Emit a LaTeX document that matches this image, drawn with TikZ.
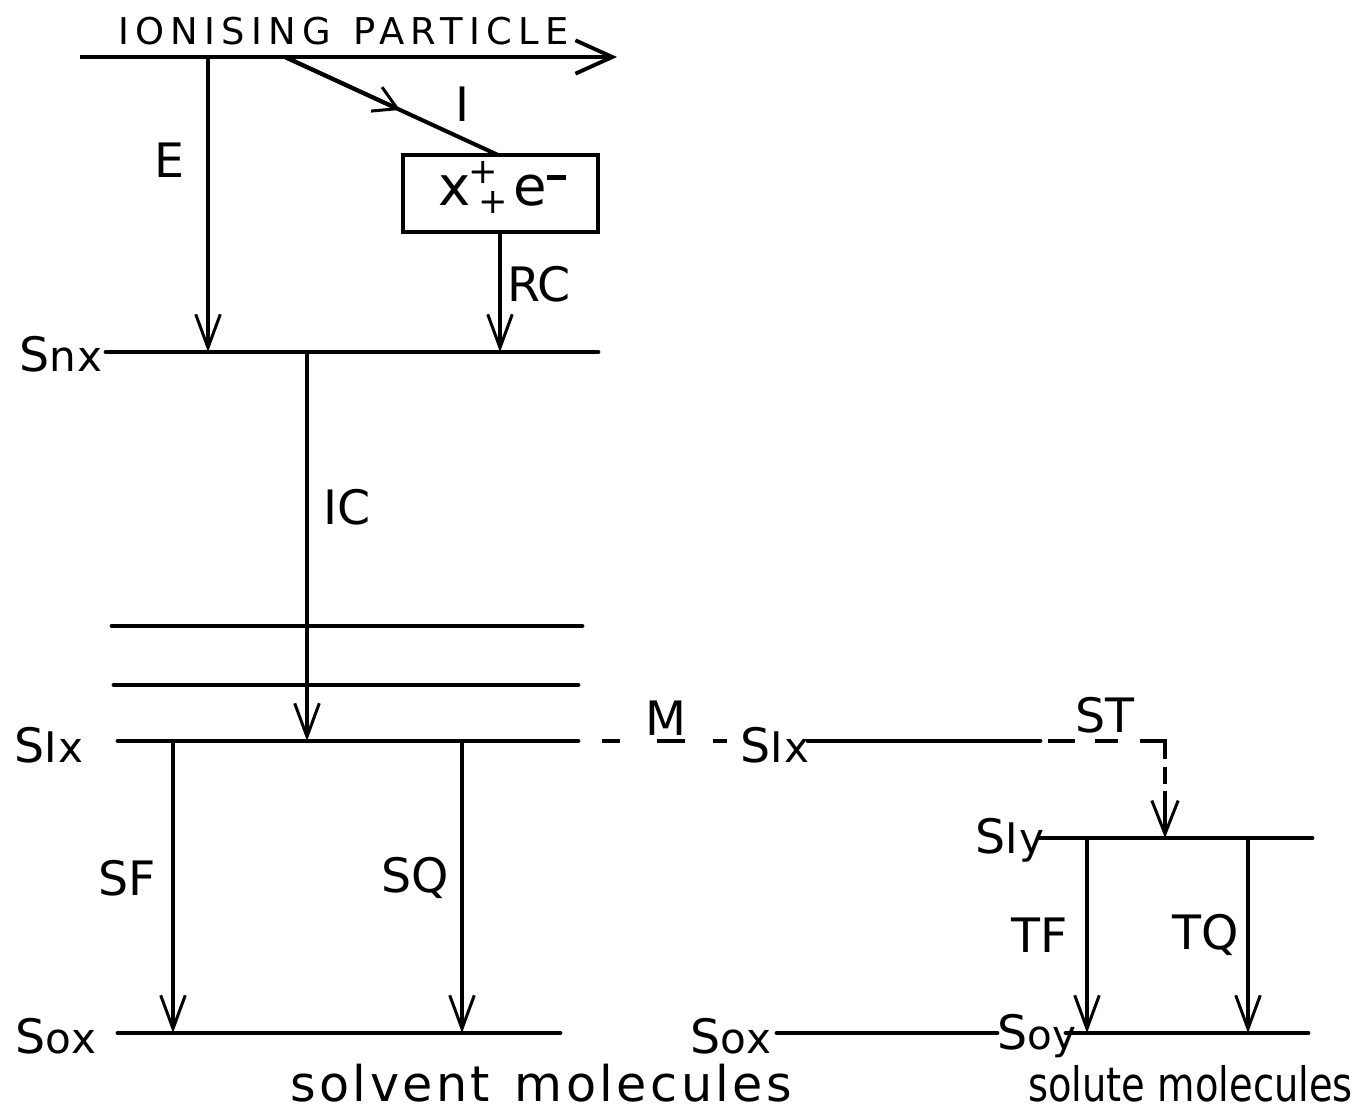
\documentclass[tikz,border=0pt]{standalone}
\usepackage{fontspec}
\setmainfont{DejaVu Sans}
\usetikzlibrary{arrows.meta,calc}
\newcommand\lvlS[1]{S{\fontsize{24}{25}\selectfont\addfontfeature{LetterSpace=4}#1}}
\newcommand\lvlT[1]{S{\fontsize{23}{25}\selectfont #1}}
\begin{document}
\begin{tikzpicture}[x=0.02cm,y=-0.02cm,
  level/.style={line width=2.8pt, line cap=round},
  trans/.style={line width=2.3pt,-{Straight Barb[length=19pt,width=14pt,line width=1.7pt]}},
  lbl/.style={font=\fontsize{27}{30}\selectfont, inner sep=0pt},
  small/.style={font=\fontsize{21}{22}\selectfont\addfontfeature{LetterSpace=17}, inner sep=0pt},
  caption/.style={font=\fontsize{28}{30}\selectfont\addfontfeature{LetterSpace=7}, inner sep=0pt, anchor=base west},
]
\useasboundingbox (0,0) rectangle (1367,1111);
\clip (0,0) rectangle (1367,1111);
\fill[white] (0,0) rectangle (1367,1111);

% ionising particle
\coordinate (ipL) at (80,57);
\coordinate (ipR) at (617,57);
\coordinate (ipE) at (208,57);
\coordinate (ipI) at (285,57);
\draw[line width=2.8pt,-{Straight Barb[length=21pt,width=19pt,line width=2.2pt]}] (ipL) -- (ipR);
\node[small, anchor=base west] (iptext) at (118,45) {IONISING\hspace{0.6em}PARTICLE};

% ionised box
\node[draw, line width=2.8pt, minimum width=3.9cm, minimum height=1.54cm, inner sep=0pt] (box) at (500.5,193.5) {};
\node[font=\fontsize{31}{32}\selectfont, inner sep=0pt, anchor=base west] (boxtext) at (438,206)
  {x\hspace{-1pt}\raisebox{13pt}{\fontsize{20}{20}\selectfont +}\hspace{-11pt}\raisebox{-4pt}{\fontsize{20}{20}\selectfont +}\hspace{3pt}e\raisebox{15pt}{\rule{11pt}{2.4pt}}};
\coordinate (boxtop) at (498,155);
\draw[line width=2.3pt] (ipI) -- (boxtop);
\draw[line width=2.3pt,-{Straight Barb[length=13pt,width=15pt,line width=1.7pt]}] (ipI) -- ($(ipI)!0.54!(boxtop)$);

% Snx level
\coordinate (snxL) at (106,352);
\coordinate (snxR) at (598,352);
\draw[level] (snxL) -- (snxR);
\node[lbl, anchor=east] (snx) at (103,354) {\lvlS{nx}};
\coordinate (snxE) at (208,352);
\coordinate (snxRC) at (500,352);
\coordinate (snxIC) at (307,352);
\coordinate (boxbot) at (500,232);
\draw[trans] (ipE) -- (snxE);
\draw[trans] (boxbot) -- (snxRC);
\node[lbl, anchor=west] (lE) at (154,160) {E};
\node[lbl, anchor=west] (lI) at (455,104) {I};
\node[lbl, anchor=west] (lRC) at (507,284) {RC};

% vibrational levels
\coordinate (v1L) at (112,626); \coordinate (v1R) at (582,626);
\coordinate (v2L) at (114,685); \coordinate (v2R) at (578,685);
\draw[level] (v1L) -- (v1R);
\draw[level] (v2L) -- (v2R);

% S1x level
\coordinate (s1xL) at (118,741);
\coordinate (s1xR) at (578,741);
\draw[level] (s1xL) -- (s1xR);
\node[lbl, anchor=west] (s1x) at (14,745) {\lvlS{Ix}};
\coordinate (s1xIC) at (307,741);
\draw[trans] (snxIC) -- (s1xIC);
\node[lbl, anchor=west] (lIC) at (323,507) {IC};

% S0x level
\coordinate (s0xL) at (118,1033);
\coordinate (s0xR) at (560,1033);
\draw[level] (s0xL) -- (s0xR);
\node[lbl, anchor=west] (s0x) at (15,1036) {\lvlS{ox}};
\coordinate (s1xSF) at (173,741); \coordinate (s0xSF) at (173,1033);
\coordinate (s1xSQ) at (462,741); \coordinate (s0xSQ) at (462,1033);
\draw[trans] (s1xSF) -- (s0xSF);
\draw[trans] (s1xSQ) -- (s0xSQ);
\node[lbl, anchor=west] (lSF) at (98,878) {SF};
\node[lbl, anchor=west] (lSQ) at (381,878) {SQ};

% migration to second S1x
\coordinate (mA) at (602,741);
\coordinate (mB) at (727,741);
\draw[line width=2.8pt, dash pattern=on 10.2pt off 21pt on 15.9pt off 15.9pt on 7.9pt off 30pt] (mA) -- (mB);
\node[lbl, anchor=base] (lM) at (666,735) {M};
\node[lbl, anchor=west] (s1x2) at (740,745) {\lvlS{Ix}};
\coordinate (s1x2L) at (808,741);
\coordinate (s1x2R) at (1040,741);
\draw[level] (s1x2L) -- (s1x2R);

% singlet transfer
\coordinate (stA) at (1048,741);
\coordinate (stC) at (1165,741);
\coordinate (s1yST) at (1165,838);
\draw[line width=2.6pt, line join=miter,
  dash pattern=on 15.3pt off 11.3pt on 13pt off 12.5pt on 25pt off 4.5pt on 9.6pt off 4pt on 40pt off 10pt,
  -{Straight Barb[length=19pt,width=15pt,line width=1.7pt]}] (stA) -- (stC) -- (s1yST);
\node[lbl, anchor=base] (lST) at (1105,732) {ST};

% solute levels
\coordinate (s1yL) at (1040,838); \coordinate (s1yR) at (1312,838);
\draw[level] (s1yL) -- (s1yR);
\node[lbl, anchor=west] (s1y) at (975,840) {\lvlS{Iy}};
\coordinate (s0x2L) at (777,1033); \coordinate (s0x2R) at (997,1033);
\node[lbl, anchor=west] (s0x2) at (690,1036) {\lvlS{ox}};
\draw[level] (s0x2L) -- (s0x2R);
\node[lbl, anchor=west] (s0y) at (997,1036) {\lvlT{oy}};
\coordinate (s0yL) at (1066,1033); \coordinate (s0yR) at (1308,1033);
\draw[level] (s0yL) -- (s0yR);
\coordinate (s1yTF) at (1087,838); \coordinate (s0yTF) at (1087,1033);
\coordinate (s1yTQ) at (1248,838); \coordinate (s0yTQ) at (1248,1033);
\draw[trans] (s1yTF) -- (s0yTF);
\draw[trans] (s1yTQ) -- (s0yTQ);
\node[lbl, anchor=west] (lTF) at (1011,935) {TF};
\node[lbl, anchor=west] (lTQ) at (1172,935) {TQ};

% captions
\node[caption] (solv) at (290,1101) {solvent\hspace{0.5em}molecules};
\node[caption, font=\fontsize{27}{30}\selectfont] (solu) at (1028,1101) {\scalebox{0.81}[1]{solute molecules}};
\end{tikzpicture}
\end{document}
